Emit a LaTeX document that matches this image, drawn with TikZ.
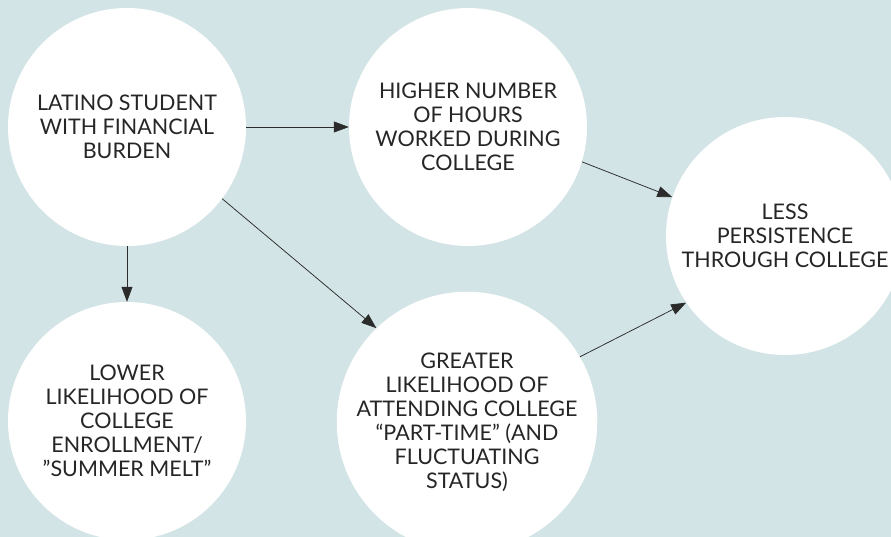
\documentclass[tikz,border=0pt]{standalone}
\usepackage{fontspec}
\setmainfont{Lato}
\usepackage{xcolor}
\usepackage{tikz}
\usetikzlibrary{arrows.meta}
\definecolor{bgblue}{HTML}{D3E4E6}
\definecolor{inkgray}{HTML}{262626}
\definecolor{linkgray}{HTML}{2B2B2B}

\begin{document}
\begin{tikzpicture}[
  x=1pt, y=-1pt,
  bubble/.style={circle, fill=white, minimum size=238pt, inner sep=0pt, align=center,
    font=\fontsize{21.5}{24}\selectfont, text=inkgray},
  link/.style={draw=linkgray, line width=0.75pt, -{Triangle[length=15pt,width=11pt]}},
]
% canvas: 891 x 537, y grows downwards
\clip (0,0) rectangle (891,537);
\fill[bgblue] (0,0) rectangle (891,537);

\node[bubble] (burden)  at (127,127) {LATINO STUDENT\\WITH FINANCIAL\\BURDEN};
\node[bubble] (hours)   at (468,127) {HIGHER NUMBER\\OF HOURS\\WORKED DURING\\COLLEGE};
\node[bubble] (melt)    at (127,421) {LOWER\\LIKELIHOOD OF\\COLLEGE\\ENROLLMENT/\\"SUMMER MELT"};
\node[bubble] (parttime) at (467,422) {GREATER\\LIKELIHOOD OF\\ATTENDING COLLEGE\\``PART-TIME'' (AND\\FLUCTUATING\\STATUS)};
\node[bubble] (persist) at (785,236) {LESS\\PERSISTENCE\\THROUGH COLLEGE};

\draw[link] (burden.east) -- (hours.west);
\draw[link] (burden.south) -- (melt.north);
\draw[link] (burden.-37) -- (parttime.134);
\draw[link] (hours.-17) -- (persist.161);
\draw[link] (parttime.30) -- (persist.-146);
\end{tikzpicture}
\end{document}
